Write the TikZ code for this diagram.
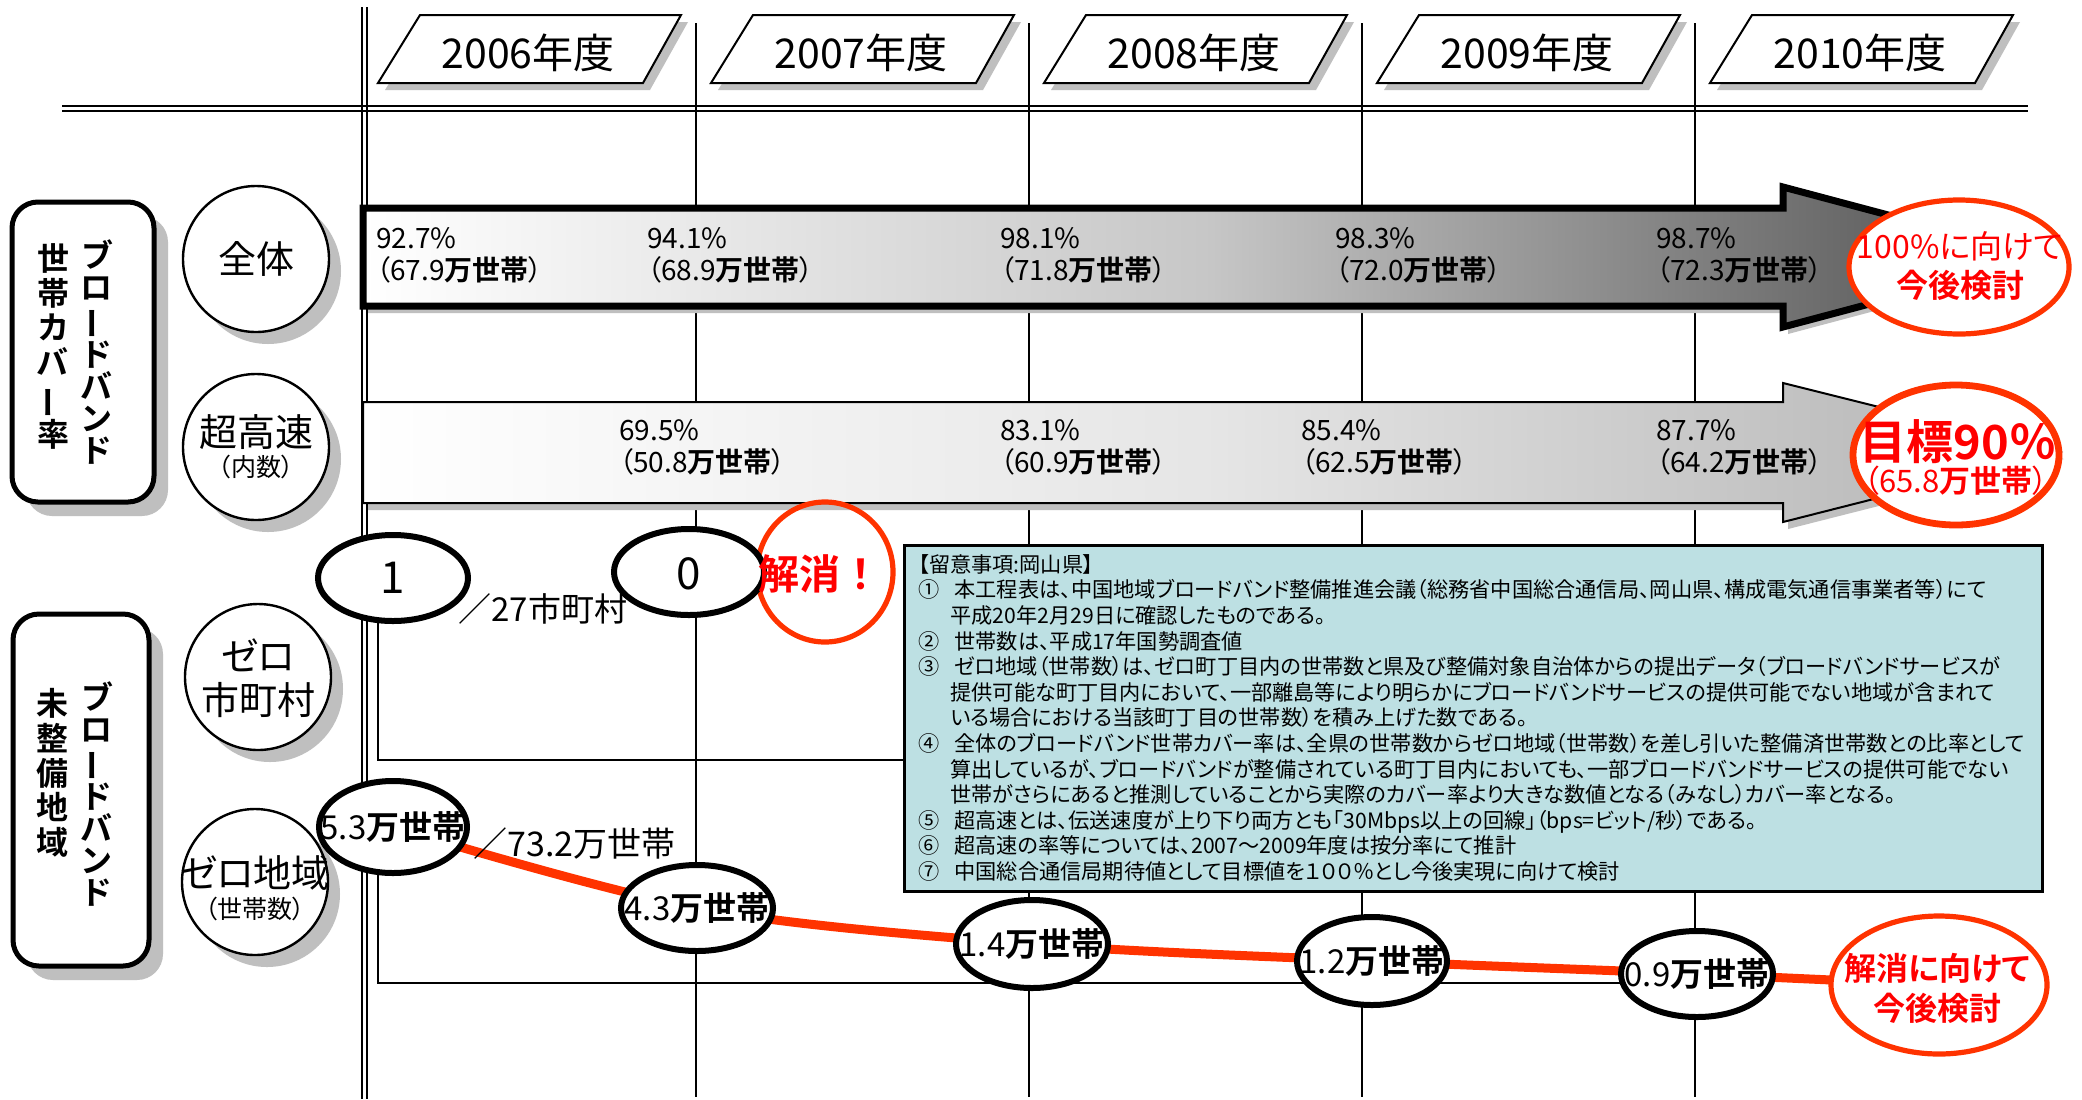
\documentclass[tikz,border=0pt]{standalone}
\usepackage{fontspec}
\setmainfont{Noto Sans CJK JP}[RawFeature=+palt,BoldFont={Noto Sans CJK JP Bold}]
\newfontfamily\jpfw{Noto Sans CJK JP}[BoldFont={Noto Sans CJK JP Bold}]
\usetikzlibrary{shapes.geometric,shadows}
\definecolor{rd}{HTML}{FF3300}
\definecolor{txtred}{HTML}{FF0000}
\definecolor{infobg}{RGB}{189,224,227}
\definecolor{shad}{gray}{0.75}
\newcommand\fsz[2]{\fontsize{#1}{#2}\selectfont}
\newcommand\vchoon{\rotatebox[origin=c]{90}{ー}}
\newcommand\itm[1]{\makebox[18pt][l]{#1}}
\newcommand\infoind{\hspace*{16pt}}
\begin{document}
\begin{tikzpicture}[x=0.5pt,y=-0.5pt,
  gridl/.style={line width=0.75pt},
  dbl/.style={line width=1pt},
  framel/.style={line width=0.9pt},
  lbox/.style={draw, line width=2.5pt, rounded corners=13pt, fill=white, inner sep=0pt,
     drop shadow={shadow xshift=7pt, shadow yshift=-7pt, fill=shad, opacity=1}},
  coltext/.style={inner sep=0pt, align=center, anchor=north},
  lcirc/.style={circle, draw, line width=1.2pt, fill=white, minimum size=73pt, inner sep=0pt,
     drop shadow={shadow xshift=6pt, shadow yshift=-6pt, fill=shad, opacity=1}},
  ctext/.style={inner sep=0pt, font=\fsz{19}{22}},
  csub/.style={inner sep=0pt, font=\fsz{12.5}{14}},
  dtext/.style={inner sep=0pt, anchor=west, align=left, font=\fsz{14}{16}},
  dell/.style={ellipse, draw, line width=3pt, fill=white, inner sep=0pt},
  etext/.style={inner sep=0pt, font=\fsz{16.5}{18}},
  rcirc/.style={ellipse, draw=rd, line width=2.6pt, fill=white, inner sep=0pt},
  rtext/.style={inner sep=0pt, text=txtred},
  yeartext/.style={inner sep=0pt, font=\fsz{20.5}{22}},
  infobox/.style={draw, line width=1.4pt, fill=infobg, inner sep=0pt, anchor=north west},
  redline/.style={draw=rd, line width=4.5pt},
]
\useasboundingbox (0,0) rectangle (2082,1099);
\fill[white] (0,0) rectangle (2082,1099);

% grid
\foreach \x in {696,1029,1362,1695} \draw[gridl] (\x,23) -- (\x,1097);
\draw[dbl] (361.5,7) -- (361.5,1099);
\draw[dbl] (366.5,7) -- (366.5,1099);
\draw[dbl] (62,106) -- (2028,106);
\draw[dbl] (62,111) -- (2028,111);

% frame lines
\draw[framel] (378,578) -- (378,760) -- (903,760);
\draw[framel] (378,827) -- (378,983) -- (1697,983);

% year headers
\foreach \i/\yr in {0/2006,1/2007,2/2008,3/2009,4/2010}{
  \pgfmathsetmacro\xa{378+333*\i}
  \fill[shad] (\xa+7,90) -- (\xa+49,22) -- (\xa+310,22) -- (\xa+272,90) -- cycle;
  \draw[line width=1pt, fill=white] (\xa,83) -- (\xa+42,15) -- (\xa+303,15) -- (\xa+265,83) -- cycle;
  \node[yeartext] (yr\yr) at (\xa+150,53) {\yr 年度};
}

% arrow 1
\fill[shad, shift={(5,7)}] (363,208) -- (1783,208) -- (1783,187) -- (2046,257) -- (1783,327) -- (1783,306) -- (363,306) -- cycle;
\path[draw, line width=3.5pt, line join=miter, left color=white, right color=black!70, middle color=black!22]
  (363,208) -- (1783,208) -- (1783,187) -- (2046,257) -- (1783,327) -- (1783,306) -- (363,306) -- cycle;
% arrow 2
\fill[shad, shift={(5,7)}] (363,402) -- (1783,402) -- (1783,383) -- (2059,452) -- (1783,522) -- (1783,503) -- (363,503) -- cycle;
\path[draw, line width=1pt, line join=miter, left color=white, right color=black!30, middle color=black!10]
  (363,402) -- (1783,402) -- (1783,383) -- (2059,452) -- (1783,522) -- (1783,503) -- (363,503) -- cycle;

% arrow texts
\node[dtext] (a06) at (376,255) {92.7\%\\（67.9\textbf{万世帯}）};
\node[dtext] (a07) at (647,255) {94.1\%\\（68.9\textbf{万世帯}）};
\node[dtext] (a08) at (1000,255) {98.1\%\\（71.8\textbf{万世帯}）};
\node[dtext] (a09) at (1335,255) {98.3\%\\（72.0\textbf{万世帯}）};
\node[dtext] (a10) at (1656,255) {98.7\%\\（72.3\textbf{万世帯}）};
\node[dtext] (b07) at (619,447) {69.5\%\\（50.8\textbf{万世帯}）};
\node[dtext] (b08) at (1000,447) {83.1\%\\（60.9\textbf{万世帯}）};
\node[dtext] (b09) at (1301,447) {85.4\%\\（62.5\textbf{万世帯}）};
\node[dtext] (b10) at (1656,447) {87.7\%\\（64.2\textbf{万世帯}）};

% left boxes
\node[lbox, minimum width=71pt, minimum height=150pt] (lb1) at (83,352) {};
\node[coltext, font=\fsz{16}{16}\bfseries] (lb1r) at (97,239) {ブ\\ロ\\\vchoon\\ド\\バ\\ン\\ド};
\node[coltext, font=\fsz{16}{17.4}\bfseries] (lb1l) at (53,243) {世\\帯\\カ\\バ\\\vchoon\\率};
\node[lbox, minimum width=68pt, minimum height=176pt] (lb2) at (81,790) {};
\node[coltext, font=\fsz{16}{16}\bfseries] (lb2r) at (97,681) {ブ\\ロ\\\vchoon\\ド\\バ\\ン\\ド};
\node[coltext, font=\fsz{16}{17.4}\bfseries] (lb2l) at (52,688) {未\\整\\備\\地\\域};

% left circles
\node[lcirc] (lc1) at (256,259) {};
\node[ctext] (lc1t) at (256,259) {全体};
\node[lcirc] (lc2) at (256,447) {};
\node[ctext] (lc2t) at (256,432) {超高速};
\node[csub] (lc2s) at (256,467) {（内数）};
\node[lcirc] (lc3) at (258,677) {};
\node[ctext] (lc3a) at (258,655) {ゼロ};
\node[ctext] (lc3b) at (258,700) {市町村};
\node[lcirc] (lc4) at (255,882) {};
\node[ctext] (lc4a) at (255,873) {ゼロ地域};
\node[csub] (lc4b) at (255,909) {（世帯数）};

% red curve
\coordinate (p53) at (393,827);
\coordinate (p43) at (697,908);
\coordinate (p14) at (1032,944);
\coordinate (p12) at (1372,961);
\coordinate (p09) at (1697,974);
\coordinate (pend) at (1939,985);
\draw[redline] plot[smooth, tension=0.55] coordinates {(p53) (p43) (p14) (p12) (p09) (pend)};

% info box
\node[infobox, minimum width=569pt, minimum height=173pt] (info) at (903,544) {};
\node[anchor=north west, inner sep=0pt, align=left, font=\fsz{10.6}{12.8}] (infot) at (918,554) {%
【留意事項:岡山県】\\
\itm{①}本工程表は、中国地域ブロードバンド整備推進会議（総務省中国総合通信局、岡山県、構成電気通信事業者等）にて\\
\infoind 平成20年2月29日に確認したものである。\\
\itm{②}世帯数は、平成17年国勢調査値\\
\itm{③}ゼロ地域（世帯数）は、ゼロ町丁目内の世帯数と県及び整備対象自治体からの提出データ（ブロードバンドサービスが\\
\infoind 提供可能な町丁目内において、一部離島等により明らかにブロードバンドサービスの提供可能でない地域が含まれて\\
\infoind いる場合における当該町丁目の世帯数）を積み上げた数である。\\
\itm{④}全体のブロードバンド世帯カバー率は、全県の世帯数からゼロ地域（世帯数）を差し引いた整備済世帯数との比率として\\
\infoind 算出しているが、ブロードバンドが整備されている町丁目内においても、一部ブロードバンドサービスの提供可能でない\\
\infoind 世帯がさらにあると推測していることから実際のカバー率より大きな数値となる（みなし）カバー率となる。\\
\itm{⑤}超高速とは、伝送速度が上り下り両方とも「30Mbps以上の回線」（bps=ビット/秒）である。\\
\itm{⑥}超高速の率等については、2007～2009年度は按分率にて推計\\
\itm{⑦}中国総合通信局期待値として目標値を１００％とし今後実現に向けて検討};

% zero municipalities row
\node[rcirc, fill=none, minimum width=68pt, minimum height=70pt] (rc3) at (825,572) {};
\node[dell, minimum width=75pt, minimum height=43pt] (e1) at (393,578) {};
\node[inner sep=0pt, font=\fsz{22}{24}] (t1) at (393,578) {1};
\node[dell, minimum width=75pt, minimum height=43pt] (e0) at (689,572) {};
\node[inner sep=0pt, font=\fsz{22}{24}] (t0) at (689,574) {0};
\node[inner sep=0pt, anchor=west, font=\fsz{16.5}{18}] (t27) at (458,609) {／27市町村};
\node[rtext, font=\jpfw\fsz{20.5}{22}\bfseries] (t3) at (820,574) {解消！};

% zero area row
\node[dell, minimum width=74pt, minimum height=46pt] (e53) at (p53) {};
\node[etext] (t53) at (p53) {5.3\textbf{万世帯}};
\node[inner sep=0pt, anchor=west, font=\fsz{17}{19}] (t732) at (473,844) {／73.2万世帯};
\node[dell, minimum width=76pt, minimum height=43pt] (e43) at (p43) {};
\node[etext] (t43) at (p43) {4.3\textbf{万世帯}};
\node[dell, minimum width=76pt, minimum height=44pt] (e14) at (p14) {};
\node[etext] (t14) at (p14) {1.4\textbf{万世帯}};
\node[dell, minimum width=75pt, minimum height=44pt] (e12) at (p12) {};
\node[etext] (t12) at (p12) {1.2\textbf{万世帯}};
\node[dell, minimum width=76pt, minimum height=43pt] (e09) at (p09) {};
\node[etext] (t09) at (p09) {0.9\textbf{万世帯}};

% red targets
\node[rcirc, minimum width=110pt, minimum height=67pt] (rc1) at (1959,267) {};
\node[rtext, font=\fsz{16}{18}] (rc1a) at (1960,246) {100\%に向けて};
\node[rtext, font=\fsz{16}{18}\bfseries] (rc1b) at (1960,285) {今後検討};
\node[rcirc, line width=3.4pt, minimum width=103pt, minimum height=70pt] (rc2) at (1956,455) {};
\node[rtext, font=\jpfw\fsz{23.5}{25}\bfseries] (rc2a) at (1958,442) {目標90％};
\node[rtext, font=\fsz{15.5}{17}] (rc2b) at (1956,481) {（65.8\textbf{万世帯}）};
\node[rcirc, minimum width=108pt, minimum height=69pt] (rc4) at (pend) {};
\node[rtext, font=\fsz{16}{18}\bfseries] (rc4a) at (1937,968) {解消に向けて};
\node[rtext, font=\fsz{16}{18}\bfseries] (rc4b) at (1937,1008) {今後検討};
\end{tikzpicture}
\end{document}
